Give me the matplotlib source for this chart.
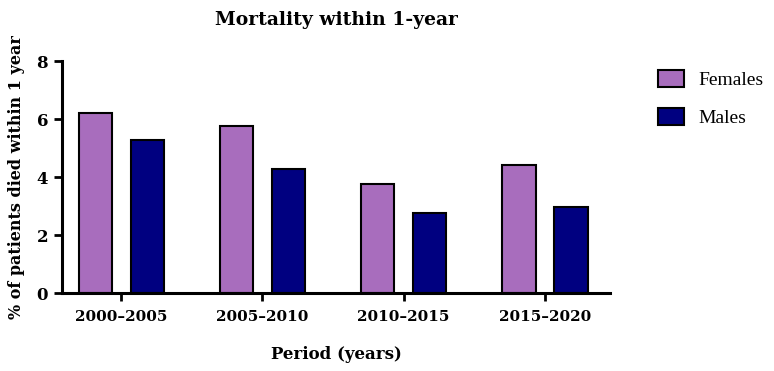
import matplotlib
matplotlib.use("Agg")
import matplotlib.pyplot as plt
import numpy as np

periods = ["2000–2005", "2005–2010", "2010–2015", "2015–2020"]
females = [6.2, 5.76, 3.76, 4.41]
males = [5.28, 4.28, 2.76, 2.97]
yticks = [0, 2, 4, 6, 8]

plt.rcParams['font.family'] = ['DejaVu Serif']
plt.rcParams['font.weight'] = 'bold'

fig = plt.figure(figsize=(7.74, 3.71), dpi=100)
ax = fig.add_axes([62/774, (371-293)/371, (610-62)/774, (293-61)/371])

x = np.arange(len(periods))
w = 0.234
off = 0.184
ax.bar(x - off, females, w, color='#A86DBD', edgecolor='black', linewidth=1.5, label='Females')
ax.bar(x + off, males, w, color='#000080', edgecolor='black', linewidth=1.5, label='Males')

ax.set_xlim(-0.418, 3.46)
ax.set_ylim(0, 8)
ax.set_yticks(yticks)
ax.set_xticks(x)
ax.set_xticklabels(periods, fontsize=11, fontweight='bold')
ax.tick_params(axis='y', labelsize=12, width=2, length=6, pad=4)
ax.tick_params(axis='x', width=2, length=6, pad=6)
for lab in ax.get_yticklabels():
    lab.set_fontweight('bold')
for s in ['top', 'right']:
    ax.spines[s].set_visible(False)
for s in ['left', 'bottom']:
    ax.spines[s].set_linewidth(2.2)

ax.set_ylabel('% of patients died within 1 year', fontsize=11.5, fontweight='bold', labelpad=8)
ax.set_xlabel('Period (years)', fontsize=12, fontweight='bold', labelpad=16)
ax.set_title('Mortality within 1-year', fontsize=13.5, fontweight='bold', pad=26)

leg = ax.legend(loc='upper left', frameon=False, borderpad=0, borderaxespad=0,
                prop={'family': 'Liberation Serif', 'size': 14, 'weight': 'normal'},
                handlelength=1.3, handleheight=0.95, labelspacing=1.0, handletextpad=0.75)
leg.set_bbox_to_anchor((1.088, 0.0, 1, 0.962), transform=ax.transAxes)

fig.savefig('out.png', dpi=100)
